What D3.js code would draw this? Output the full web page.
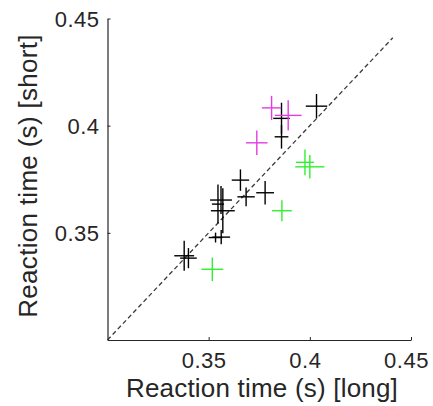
<!DOCTYPE html>
<html><head><meta charset="utf-8">
<script src="https://cdn.jsdelivr.net/npm/d3@7"></script>
<style>
html,body{margin:0;padding:0;background:#fff;}
svg{display:block;}
text{font-family:"Liberation Sans",Arial,sans-serif;fill:#262626;}
</style></head>
<body>
<svg id="c" width="433" height="406"></svg>
<script>
// Data: mean reaction times (long vs short) with error half-widths
const groups = ["black","black","black","black","black","black","black","black","black","black","black","black","black",
                "magenta","magenta","magenta","green","green","green","green"];
const longRT  = [0.4033,0.3860,0.3860,0.3657,0.3685,0.3779,0.3561,0.3546,0.3570,0.3534,0.3562,0.3379,0.3400,
                 0.3811,0.3893,0.3738,0.3976,0.4000,0.3862,0.3518];
const shortRT = [0.4091,0.4034,0.3948,0.3746,0.3668,0.3687,0.3653,0.3634,0.3603,0.3478,0.3480,0.3393,0.3382,
                 0.4083,0.4048,0.3920,0.3829,0.3808,0.3603,0.3330];
const longErr = [0.0053,0.0041,0.0034,0.0043,0.0043,0.0044,0.0054,0.0030,0.0059,0.0034,0.0044,0.0049,0.0041,
                 0.0048,0.0066,0.0053,0.0044,0.0072,0.0049,0.0054];
const shortErr= [0.0057,0.0073,0.0055,0.0050,0.0044,0.0055,0.0065,0.0091,0.0105,0.0023,0.0033,0.0070,0.0047,
                 0.0056,0.0071,0.0057,0.0060,0.0055,0.0049,0.0055];
const xTicks = [0.35,0.40,0.45];
const yTicks = [0.35,0.40,0.45];
const xTickLabels = ["0.35","0.4","0.45"];
const yTickLabels = ["0.35","0.4","0.45"];
const unityLine = [0.30,0.441];
const xDomain = [0.30,0.45], yDomain = [0.30,0.45];

const colorMap = {black:"#000000", magenta:"#e23ce2", green:"#2ef02e"};
const svg = d3.select("#c");
const L=107.5, R=411, T=18.5, B=340;
const x = d3.scaleLinear().domain(xDomain).range([L,R]);
const y = d3.scaleLinear().domain(yDomain).range([B,T]);

// unity line
svg.append("line")
  .attr("x1",x(unityLine[0])).attr("y1",y(unityLine[0]))
  .attr("x2",x(unityLine[1])).attr("y2",y(unityLine[1]))
  .attr("stroke","#3a3a3a").attr("stroke-width",1.3).attr("stroke-dasharray","4.5,3");

// crosses
const data = longRT.map((v,i)=>({x:v,y:shortRT[i],xe:longErr[i],ye:shortErr[i],g:groups[i]}));
const g = svg.append("g");
data.forEach(d=>{
  g.append("line").attr("x1",x(d.x-d.xe)).attr("x2",x(d.x+d.xe)).attr("y1",y(d.y)).attr("y2",y(d.y))
    .attr("stroke",colorMap[d.g]).attr("stroke-width",1.4);
  g.append("line").attr("x1",x(d.x)).attr("x2",x(d.x)).attr("y1",y(d.y-d.ye)).attr("y2",y(d.y+d.ye))
    .attr("stroke",colorMap[d.g]).attr("stroke-width",1.4);
});

// axes
const xAxis = d3.axisBottom(x).tickValues(xTicks).tickFormat((d,i)=>xTickLabels[i]).tickSizeInner(-3).tickSizeOuter(0).tickPadding(12);
const yAxis = d3.axisLeft(y).tickValues(yTicks).tickFormat((d,i)=>yTickLabels[i]).tickSizeInner(-3).tickSizeOuter(0).tickPadding(8);
const gx = svg.append("g").attr("transform",`translate(0,${B})`).call(xAxis);
const gy = svg.append("g").attr("transform",`translate(${L},0)`).call(yAxis);
[gx,gy].forEach(a=>{
  a.select(".domain").attr("stroke","#262626").attr("stroke-width",1.2);
  a.selectAll(".tick line").attr("stroke","#262626").attr("stroke-width",1);
  a.selectAll(".tick text").attr("font-size",22).attr("letter-spacing","0.5px")
    .attr("font-family","Liberation Sans, Arial, sans-serif").attr("fill","#262626");
});
gx.selectAll(".tick text").attr("dx",-5);
gy.selectAll(".tick text").attr("dy","0.36em");

// labels
svg.append("text").attr("x",262).attr("y",397).attr("text-anchor","middle")
  .attr("font-size",26).attr("letter-spacing","0.2px").text("Reaction time (s) [long]");
svg.append("text").attr("transform","translate(37,176) rotate(-90)").attr("text-anchor","middle")
  .attr("font-size",26).attr("letter-spacing","0.3px").text("Reaction time (s) [short]");
</script>
</body></html>
